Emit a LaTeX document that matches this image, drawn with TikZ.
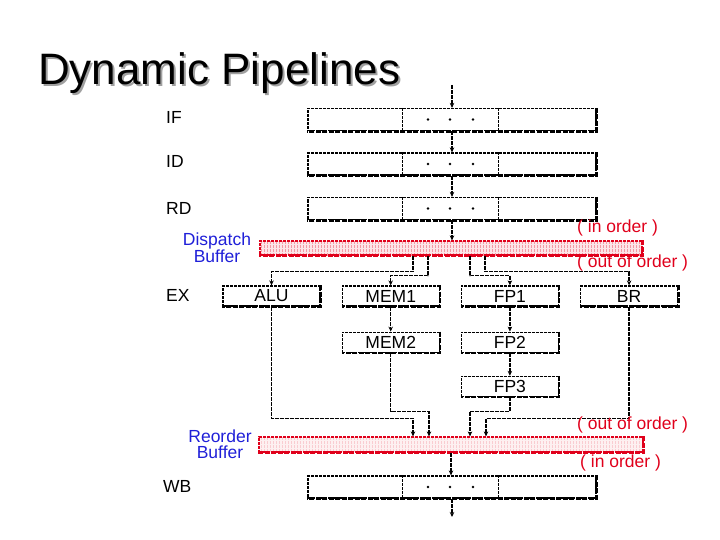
\documentclass[tikz,border=0pt]{standalone}
\usepackage{fontspec}
\setmainfont{Liberation Sans}
\usetikzlibrary{positioning, arrows.meta, calc, patterns}
\definecolor{bufRed}{HTML}{E0001B}
\definecolor{labelBlue}{HTML}{1F1FD8}
\definecolor{titleShadow}{HTML}{A0A0A0}

\begin{document}
\begin{tikzpicture}[x=1pt, y=-1pt, font=\fontsize{17.5}{16}\selectfont, node distance=21pt,
    stagebox/.style={draw, dash pattern=on 3pt off 1pt, line width=1.2pt,
          minimum width=288pt, minimum height=22pt, inner sep=0pt},
    unitbox/.style={draw, dash pattern=on 3pt off 1pt, line width=1.2pt,
          minimum width=97pt, minimum height=20pt, inner sep=0pt},
    bufbox/.style={draw=bufRed, dash pattern=on 3pt off 1pt, line width=1.2pt,
          minimum width=382pt, minimum height=14pt, inner sep=0pt,
          preaction={fill=bufRed!10}, pattern=vertical lines, pattern color=bufRed!40},
    heavy/.style={line width=3pt, dash pattern=on 5pt off 1.5pt},
    link/.style={line width=1.5pt, dash pattern=on 4pt off 1pt},
    flow/.style={link, -{Stealth[length=5pt, width=4.5pt]}},
    stagelabel/.style={anchor=west, inner sep=0pt},
    note/.style={anchor=west, inner sep=0pt, text=bufRed},
    buflabel/.style={align=center, inner sep=0pt, text=labelBlue}]
    \useasboundingbox (0,0) rectangle (720,540);

    % title, its shadow set behind it in the same node
    \node[anchor=base west, inner sep=0pt, font=\fontsize{44}{44}\selectfont] (title) at (38,85)
      {\rlap{\kern2pt\raisebox{-2pt}{\color{titleShadow}Dynamic Pipelines}}Dynamic Pipelines};

    % in-order stages
    \node[stagebox] (if) at (452,119.5) {};
    \node[stagebox] (id) at (452,164) {};
    \node[stagebox] (rd) at (452,208.5) {};
    \node[stagebox] (wb) at (452,487) {};
    \foreach \s in {if,id,rd,wb} {
      \draw[line width=1.2pt, dash pattern=on 3pt off 1pt]
        ($(\s.north west)!0.33!(\s.north east)$) -- ($(\s.south west)!0.33!(\s.south east)$);
      \draw[line width=1.2pt, dash pattern=on 3pt off 1pt]
        ($(\s.north west)!0.66!(\s.north east)$) -- ($(\s.south west)!0.66!(\s.south east)$);
      \foreach \dx in {-24,-2,21}
        \fill ([xshift=\dx pt]\s.center) circle (1.4);
      \draw[heavy] (\s.north east) -- (\s.south east) -- (\s.south west);
    }

    % buffers
    \node[bufbox] (dispatch) at (451,248) {};
    \node[bufbox, minimum width=384pt, minimum height=15pt,
          preaction={fill=bufRed!6}, pattern color=bufRed!20] (reorder) at (451,444.5) {};
    \draw[heavy, draw=bufRed] (dispatch.north east) -- (dispatch.south east) -- (dispatch.south west);
    \draw[heavy, draw=bufRed] (reorder.north east) -- (reorder.south east) -- (reorder.south west);

    % execution units
    \node[unitbox] (alu) at (271.5,296) {ALU};
    \node[unitbox, right=of alu] (mem1) {MEM1};
    \node[unitbox, right=of mem1] (fp1) {FP1};
    \node[unitbox, right=of fp1] (br) {BR};
    \node[unitbox, below=25pt of mem1] (mem2) {MEM2};
    \node[unitbox, below=25pt of fp1] (fp2) {FP2};
    \node[unitbox, below=23pt of fp2] (fp3) {FP3};
    \foreach \u in {alu,mem1,fp1,br,mem2,fp2,fp3}
      \draw[heavy, line width=2.6pt] (\u.north east) -- (\u.south east) -- (\u.south west);

    % main flow
    \coordinate (in) at (452,85);
    \coordinate (out) at (452,517);
    \draw[flow] (in) -- (if.north);
    \draw[flow] (if) -- (id);
    \draw[flow] (id) -- (rd);
    \draw[flow] (rd.south) -- (rd.south |- dispatch.north);
    \draw[flow] (reorder.south) -- (reorder.south |- wb.north);
    \draw[flow] (wb) -- (out);

    % dispatch to units
    \coordinate (d1) at ([xshift=-38pt]dispatch.south);
    \coordinate (d2) at ([xshift=-23pt]dispatch.south);
    \coordinate (d3) at ([xshift=19pt]dispatch.south);
    \coordinate (d4) at ([xshift=34pt]dispatch.south);
    \draw[flow] (d1) -- ([yshift=-16pt]d1) -| (alu.north);
    \draw[flow] (d2) -- ([yshift=-20pt]d2) -| (mem1.north);
    \draw[flow] (d3) -- ([yshift=-20pt]d3) -| (fp1.north);
    \draw[flow] (d4) -- ([yshift=-16pt]d4) -| (br.north);
    \draw[flow] (mem1) -- (mem2);
    \draw[flow] (fp1) -- (fp2);
    \draw[flow] (fp2) -- (fp3);

    % units to reorder buffer
    \coordinate (r1) at ([xshift=-38pt]reorder.north);
    \coordinate (r2) at ([xshift=-22pt]reorder.north);
    \coordinate (r3) at ([xshift=19pt]reorder.north);
    \coordinate (r4) at ([xshift=35pt]reorder.north);
    \draw[flow] (alu.south) |- ([yshift=18pt]r1) -- (r1);
    \draw[flow] (mem2.south) |- ([yshift=25pt]r2) -- (r2);
    \draw[flow] (fp3.south) |- ([yshift=25pt]r3) -- (r3);
    \draw[flow] (br.south) |- ([yshift=18pt]r4) -- (r4);

    % labels
    \node[stagelabel] (iflabel) at (166,117) {IF};
    \node[stagelabel] (idlabel) at (166,161) {ID};
    \node[stagelabel] (rdlabel) at (166,208) {RD};
    \node[stagelabel] (exlabel) at (166,295) {EX};
    \node[stagelabel] (wblabel) at (163,486) {WB};
    \node[buflabel] (displabel) at (217,248) {Dispatch\\Buffer};
    \node[buflabel] (reordlabel) at (220,444) {Reorder\\Buffer};
    \node[note] (dispin) at (577,228) {( in order )};
    \node[note] (dispout) at (577,263) {( out of order )};
    \node[note] (reordout) at (577,425) {( out of order )};
    \node[note] (reordin) at (580,463) {( in order )};
  \end{tikzpicture}
\end{document}
